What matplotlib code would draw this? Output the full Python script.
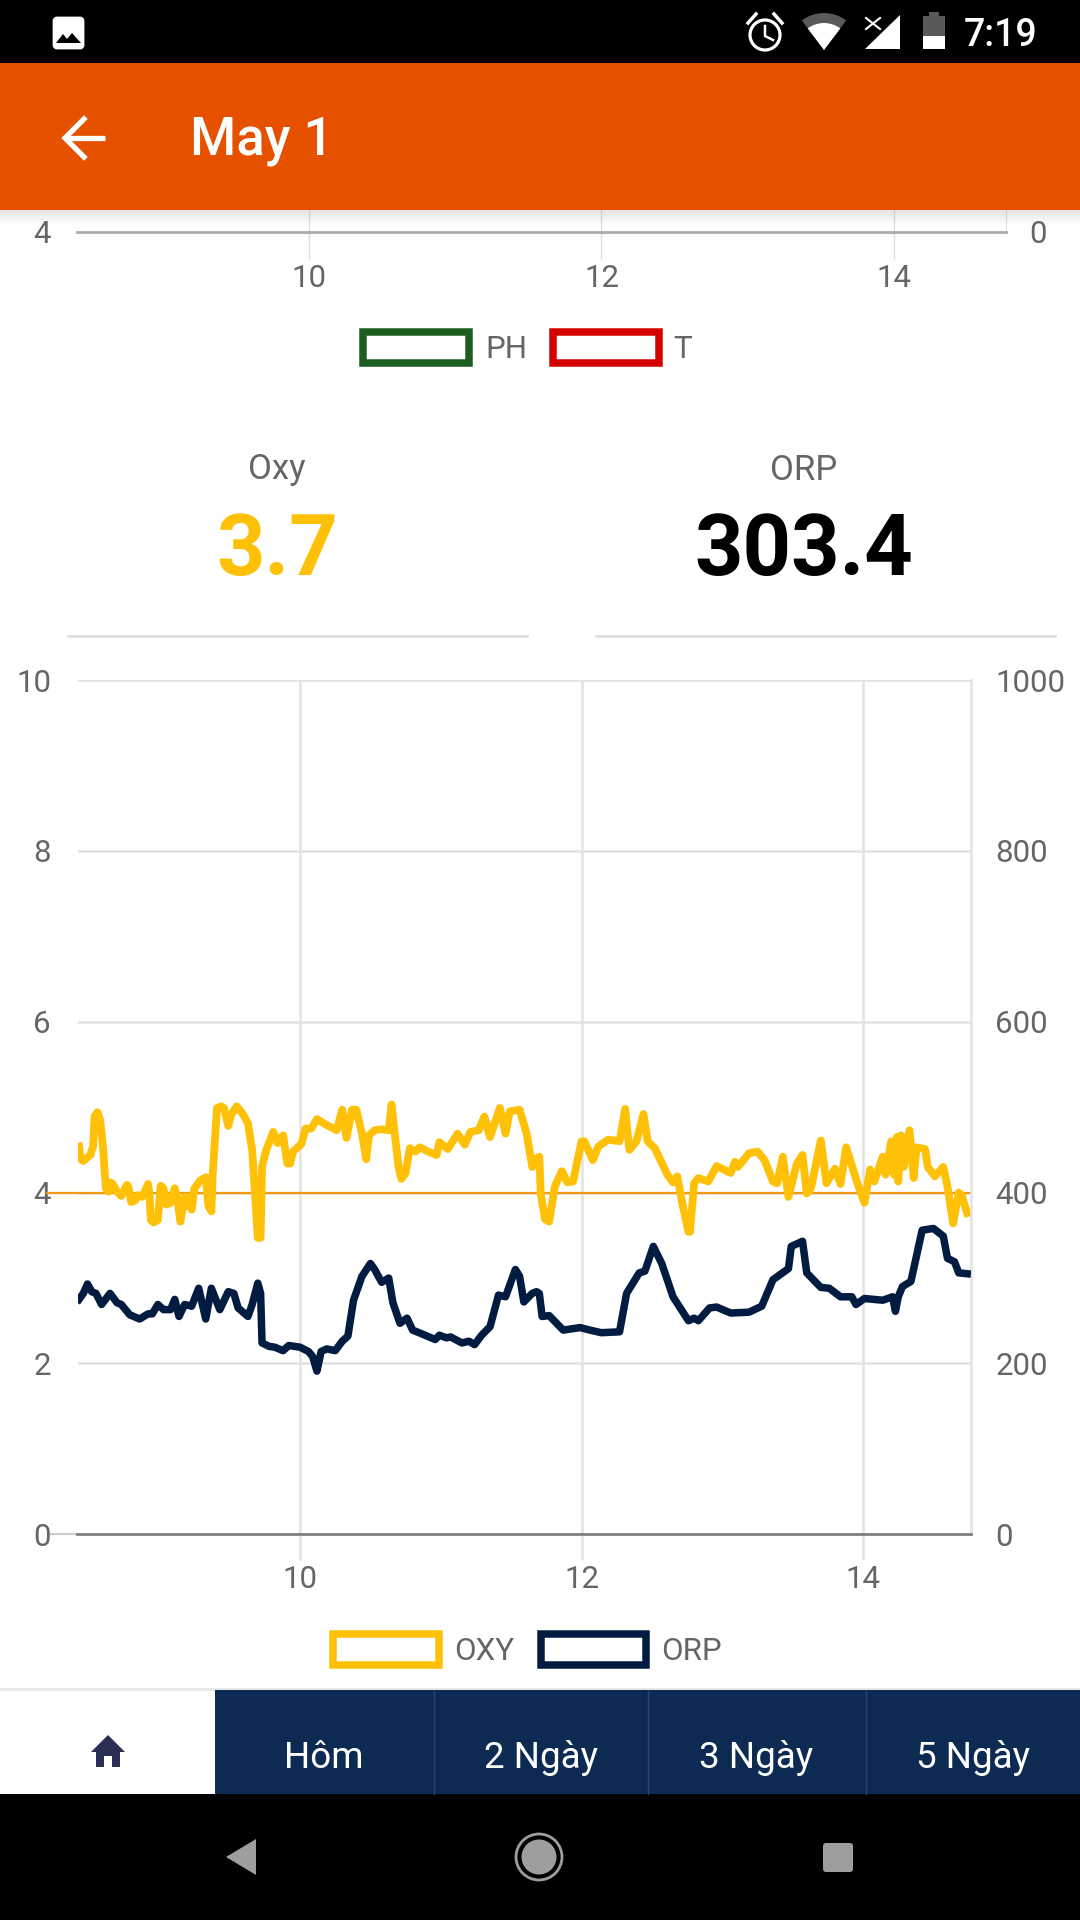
import matplotlib
matplotlib.use('Agg')
import matplotlib.pyplot as plt
from matplotlib.patches import Rectangle, Polygon, Circle, Wedge, FancyBboxPatch

plt.rcParams['font.family'] = ['Roboto', 'DejaVu Sans']

# hours of day / dissolved oxygen
oxy_hours = [8.43, 8.44, 8.46, 8.51, 8.53, 8.54, 8.56, 8.58, 8.60, 8.62, 8.64, 8.65, 8.67, 8.70, 8.73,
             8.77, 8.78, 8.80, 8.83, 8.85, 8.88, 8.92, 8.93, 8.94, 8.96, 8.99, 9.01, 9.03, 9.05, 9.08,
             9.11, 9.13, 9.15, 9.18, 9.19, 9.21, 9.23, 9.25, 9.29, 9.33, 9.35, 9.37, 9.38, 9.41, 9.44,
             9.46, 9.49, 9.51, 9.55, 9.59, 9.63, 9.66, 9.68, 9.70, 9.72, 9.73, 9.76, 9.81, 9.84, 9.88,
             9.91, 9.93, 9.95, 10.01, 10.04, 10.08, 10.12, 10.19, 10.26, 10.30, 10.33, 10.37, 10.40, 10.44, 10.47,
             10.49, 10.53, 10.58, 10.63, 10.65, 10.67, 10.70, 10.72, 10.75, 10.78, 10.82, 10.85, 10.91, 10.97, 10.99,
             11.05, 11.12, 11.17, 11.21, 11.27, 11.31, 11.35, 11.42, 11.46, 11.49, 11.56, 11.61, 11.65, 11.68, 11.70,
             11.71, 11.74, 11.77, 11.81, 11.86, 11.90, 11.94, 12.00, 12.02, 12.08, 12.12, 12.19, 12.27, 12.31, 12.34,
             12.39, 12.44, 12.47, 12.52, 12.61, 12.65, 12.68, 12.72, 12.76, 12.77, 12.80, 12.83, 12.90, 12.96, 13.06,
             13.09, 13.11, 13.19, 13.25, 13.30, 13.36, 13.39, 13.43, 13.47, 13.53, 13.57, 13.60, 13.63, 13.70, 13.74,
             13.80, 13.84, 13.88, 13.93, 13.96, 14.01, 14.05, 14.08, 14.14, 14.16, 14.20, 14.22, 14.24, 14.25, 14.27,
             14.29, 14.33, 14.36, 14.38, 14.44, 14.46, 14.51, 14.57, 14.60, 14.64, 14.68, 14.70, 14.74]
oxy_values = [4.54, 4.40, 4.37, 4.44, 4.54, 4.89, 4.94, 4.85, 4.54, 4.05, 4.01, 4.12, 4.10, 4.01, 3.96,
              4.09, 4.07, 3.89, 3.91, 3.97, 3.95, 4.10, 3.99, 3.68, 3.65, 3.68, 4.08, 4.05, 3.86, 3.88,
              4.05, 3.91, 3.66, 3.95, 3.84, 3.95, 3.80, 4.05, 4.14, 4.18, 3.84, 3.78, 4.23, 4.99, 5.01,
              4.99, 4.78, 4.91, 5.01, 4.93, 4.81, 4.50, 3.99, 3.47, 3.47, 4.30, 4.50, 4.71, 4.58, 4.67,
              4.34, 4.34, 4.48, 4.57, 4.75, 4.75, 4.86, 4.79, 4.73, 4.97, 4.64, 4.97, 4.97, 4.69, 4.39,
              4.67, 4.73, 4.74, 4.73, 5.03, 4.73, 4.30, 4.16, 4.23, 4.52, 4.48, 4.53, 4.48, 4.44, 4.59,
              4.51, 4.69, 4.56, 4.71, 4.73, 4.89, 4.65, 4.99, 4.69, 4.95, 4.97, 4.69, 4.30, 4.40, 4.42,
              3.99, 3.69, 3.66, 4.07, 4.25, 4.12, 4.13, 4.60, 4.60, 4.38, 4.54, 4.62, 4.60, 4.98, 4.50,
              4.60, 4.92, 4.60, 4.52, 4.21, 4.12, 4.19, 3.84, 3.54, 3.54, 4.11, 4.17, 4.13, 4.31, 4.23,
              4.36, 4.30, 4.46, 4.48, 4.38, 4.13, 4.11, 4.42, 3.95, 4.34, 4.44, 3.99, 4.05, 4.61, 4.11,
              4.28, 4.10, 4.53, 4.27, 4.11, 3.88, 4.27, 4.13, 4.42, 4.21, 4.60, 4.21, 4.65, 4.13, 4.67,
              4.30, 4.73, 4.17, 4.53, 4.51, 4.30, 4.19, 4.30, 4.07, 3.64, 4.00, 3.97, 3.76]

orp_hours = [8.43, 8.46, 8.49, 8.52, 8.55, 8.59, 8.65, 8.70, 8.73, 8.79, 8.86, 8.92, 8.95, 8.99, 9.03,
             9.08, 9.11, 9.14, 9.18, 9.23, 9.28, 9.33, 9.37, 9.43, 9.49, 9.53, 9.56, 9.63, 9.66, 9.70,
             9.72, 9.73, 9.78, 9.82, 9.88, 9.92, 10.00, 10.06, 10.09, 10.12, 10.15, 10.19, 10.25, 10.30, 10.34,
             10.38, 10.44, 10.50, 10.53, 10.58, 10.63, 10.66, 10.71, 10.76, 10.80, 10.86, 10.96, 10.99, 11.04, 11.07,
             11.15, 11.20, 11.24, 11.29, 11.35, 11.41, 11.46, 11.53, 11.56, 11.59, 11.65, 11.68, 11.70, 11.72, 11.77,
             11.87, 11.99, 12.06, 12.14, 12.27, 12.32, 12.41, 12.45, 12.51, 12.57, 12.65, 12.76, 12.80, 12.83, 12.91,
             12.96, 13.06, 13.19, 13.28, 13.36, 13.47, 13.49, 13.57, 13.60, 13.70, 13.76, 13.84, 13.92, 13.95, 14.01,
             14.14, 14.21, 14.23, 14.25, 14.28, 14.34, 14.42, 14.50, 14.57, 14.60, 14.65, 14.68, 14.74]
orp_values = [275, 282, 293, 284, 282, 269, 282, 271, 269, 257, 252, 258, 258, 269, 263,
              263, 275, 255, 269, 267, 288, 252, 288, 263, 284, 282, 265, 255, 269, 294,
              282, 224, 220, 219, 215, 221, 219, 214, 208, 191, 214, 217, 215, 226, 232,
              274, 302, 317, 310, 295, 300, 271, 247, 253, 239, 235, 228, 233, 230, 231,
              224, 226, 222, 233, 243, 280, 278, 310, 302, 272, 282, 284, 282, 255, 256,
              239, 242, 239, 236, 237, 282, 306, 308, 337, 317, 278, 250, 253, 250, 265,
              266, 259, 260, 267, 298, 311, 337, 343, 306, 289, 288, 278, 278, 269, 276,
              274, 278, 261, 278, 290, 296, 356, 358, 349, 323, 319, 306, 305]

hour_ticks = [10, 12, 14]
left_ticks = [0, 2, 4, 6, 8, 10]
right_ticks = [0, 200, 400, 600, 800, 1000]
nav_labels = ['Hôm', '2 Ngày', '3 Ngày', '5 Ngày']
oxy_reading = '3.7'
orp_reading = '303.4'
oxy_limit = 4

W, H = 1080, 1920
GRID = '#e2e2e2'
TXT = '#666666'
AMBER = '#ffc107'
NAVY = '#021c41'


def box(left, top, right, bottom):
    return [left / W, 1 - bottom / H, (right - left) / W, (bottom - top) / H]


fig = plt.figure(figsize=(W / 100, H / 100), dpi=100, facecolor='white')

# main chart
ax = fig.add_axes(box(77.5, 680, 971, 1534.3))
ax.set_xlim(8.419, 14.767)
ax.set_ylim(0, 10)
ax.set_xticks(hour_ticks)
ax.set_yticks(left_ticks)
ax.grid(True, color=GRID, lw=1.8)
ax.set_axisbelow(True)
ax.tick_params(axis='x', length=18.5, width=1.8, color=GRID, pad=3.5, labelsize=22.5, labelcolor=TXT)
ax.tick_params(axis='y', length=0, pad=19, labelsize=22.5, labelcolor=TXT)
for side in ['top', 'left']:
    ax.spines[side].set_visible(False)
ax.spines['right'].set_color(GRID)
ax.spines['right'].set_linewidth(1.8)
ax.spines['bottom'].set_color('#808080')
ax.spines['bottom'].set_linewidth(2.0)
ax.axhline(0, xmin=-0.03, xmax=0, color='#cccccc', lw=1.5, clip_on=False)
ax.axhline(oxy_limit, xmin=-0.034, xmax=1, color='#f09a12', lw=1.6, clip_on=False, zorder=1.5)
ax.plot(oxy_hours, oxy_values, color=AMBER, lw=5.6, solid_joinstyle='round', zorder=2)

ax2 = ax.twinx()
ax2.set_ylim(0, 1000)
ax2.set_yticks(right_ticks)
ax2.tick_params(axis='y', length=0, pad=17.5, labelsize=22.5, labelcolor=TXT)
for side in ['top', 'left', 'right', 'bottom']:
    ax2.spines[side].set_visible(False)
ax2.plot(orp_hours, orp_values, color=NAVY, lw=5.4, solid_joinstyle='round', zorder=3)

# the PH / T chart above, scrolled away except for its lower edge
top = fig.add_axes(box(77, 210, 1005.5, 231.5))
top.set_xlim(8.417, 14.76)
top.set_ylim(4, 4.2)
top.set_xticks(hour_ticks)
top.set_yticks([4])
top.grid(True, axis='x', color='#dddddd', lw=1)
top.tick_params(axis='x', length=19.6, width=1, color='#dddddd', pad=4, labelsize=22.5, labelcolor=TXT)
top.tick_params(axis='y', length=0, pad=19, labelsize=22.5, labelcolor=TXT)
for side in ['top', 'left']:
    top.spines[side].set_visible(False)
top.spines['right'].set_color('#dddddd')
top.spines['bottom'].set_color('#aaaaaa')
top.spines['bottom'].set_linewidth(2)
top2 = top.twinx()
top2.set_ylim(0, 100)
top2.set_yticks([0])
top2.tick_params(axis='y', length=0, pad=17, labelsize=22.5, labelcolor=TXT)
for side in ['top', 'left', 'right', 'bottom']:
    top2.spines[side].set_visible(False)

# app screen around the charts, in pixel coordinates
ui = fig.add_axes([0, 0, 1, 1], zorder=10)
ui.set_xlim(0, W)
ui.set_ylim(H, 0)
ui.axis('off')
ui.patch.set_alpha(0)


def rect(x0, y0, x1, y1, **kw):
    ui.add_patch(Rectangle((x0, y0), x1 - x0, y1 - y0, lw=kw.pop('lw', 0), **kw))


rect(0, 0, W, 63, fc='black')
rect(0, 63, W, 210, fc='#e65100')
for i in range(7):
    rect(0, 210 + i * 2, W, 212 + i * 2, fc='#888888', alpha=0.22 * (1 - i / 7))

# status bar
ui.add_patch(FancyBboxPatch((54, 18), 29, 30, boxstyle='round,pad=0,rounding_size=3', fc='white', lw=2, ec='white'))
ui.add_patch(Polygon([(56, 43), (63, 34), (67, 39), (72, 33), (81, 43)], fc='black'))
ui.add_patch(Circle((765, 35), 15, fc='none', ec='white', lw=2.3))
ui.plot([765, 765, 773], [26, 36, 40], color='white', lw=1.8)
ui.plot([748, 756], [23, 14], color='white', lw=2.5)
ui.plot([782, 774], [23, 14], color='white', lw=2.5)
ui.add_patch(Wedge((824, 50), 37, 270 - 37, 270 + 37, fc='#595959', lw=0))
ui.add_patch(Wedge((824, 50), 27, 270 - 37, 270 + 37, fc='white', lw=0))
ui.add_patch(Polygon([(865, 49), (900, 49), (900, 15)], fc='white'))
ui.plot([866, 880], [18, 29], color='white', lw=1.5)
ui.plot([880, 866], [18, 29], color='white', lw=1.5)
rect(929, 12, 939, 17, fc='#595959')
rect(923, 16, 945, 36, fc='#595959')
rect(923, 36, 945, 49, fc='white')
ui.text(1001, 35, '7:19', color='white', fontsize=27, ha='center', va='center', fontweight='medium')

# app bar
ui.plot([66, 105], [138, 138], color='white', lw=3.8, solid_capstyle='butt')
ui.plot([84, 65, 84], [119, 138, 157], color='white', lw=3.8, solid_joinstyle='miter')
ui.text(190, 141, 'May 1', color='white', fontsize=38, ha='left', va='center', fontweight='medium')

# legends
for x0, x1, color in [(363, 469, '#1b5e20'), (553, 659, '#d50000'), (333, 439, AMBER), (541, 646, NAVY)]:
    y0, y1 = (332, 363) if color in ('#1b5e20', '#d50000') else (1634, 1665)
    rect(x0, y0, x1, y1, fc='white', ec=color, lw=5.4)
ui.text(485, 349, 'PH', color=TXT, fontsize=22.5, ha='left', va='center')
ui.text(673, 349, 'T', color=TXT, fontsize=22.5, ha='left', va='center')
ui.text(454, 1652, 'OXY', color=TXT, fontsize=22.5, ha='left', va='center')
ui.text(661, 1652, 'ORP', color=TXT, fontsize=22.5, ha='left', va='center')

# current readings
ui.text(277, 470, 'Oxy', color=TXT, fontsize=25, ha='center', va='center')
ui.text(804, 470, 'ORP', color=TXT, fontsize=25, ha='center', va='center')
ui.text(277, 551, oxy_reading, color=AMBER, fontsize=61, ha='center', va='center', fontweight='bold')
ui.text(804, 551, orp_reading, color='black', fontsize=61, ha='center', va='center', fontweight='bold')
ui.plot([68, 527], [636, 636], color='#dddddd', lw=2)
ui.plot([596, 1055], [636, 636], color='#dddddd', lw=2)

# bottom nav
rect(0, 1688, W, 1691, fc='#e8e8e8')
rect(215, 1690, W, 1794, fc='#0d2b52')
for x in [434, 648, 866]:
    ui.plot([x, x], [1691, 1794], color='#2c4568', lw=1)
for x, label in zip([324, 541, 756, 973], nav_labels):
    ui.text(x, 1758, label, color='white', fontsize=26.5, ha='center', va='center')
ui.add_patch(Polygon([(108, 1735), (125, 1752), (120, 1752), (120, 1767), (112, 1767), (112, 1756), (104, 1756),
                      (104, 1767), (96, 1767), (96, 1752), (91, 1752)], fc='#2b2f55'))

# android buttons
rect(0, 1794, W, H, fc='black')
ui.add_patch(Polygon([(226, 1857), (256, 1839), (256, 1875)], fc='#9e9e9e'))
ui.add_patch(Circle((539, 1857), 23, fc='none', ec='#9e9e9e', lw=2))
ui.add_patch(Circle((539, 1857), 17.5, fc='#9e9e9e', lw=0))
ui.add_patch(FancyBboxPatch((823, 1843), 30, 29, boxstyle='round,pad=0,rounding_size=3', fc='#9e9e9e', lw=0))

fig.savefig('out.png', dpi=100)
